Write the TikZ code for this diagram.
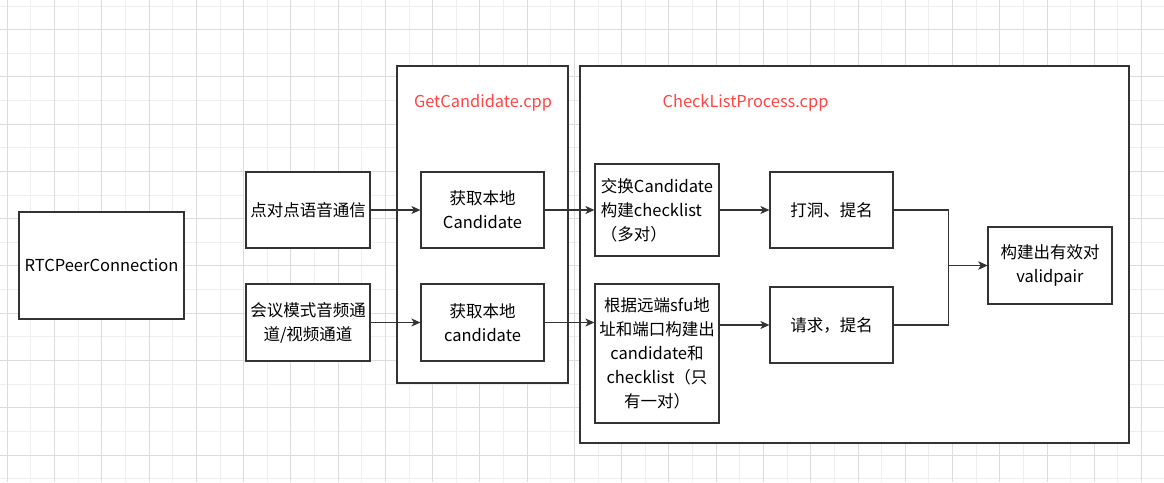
\documentclass[tikz,border=0pt]{standalone}
\usepackage{fontspec}
\setmainfont{Noto Sans CJK SC}
\usetikzlibrary{arrows.meta}
\definecolor{gridlight}{HTML}{EEEEEE}
\definecolor{griddark}{HTML}{DCDCDC}
\definecolor{linec}{HTML}{333333}
\definecolor{redt}{HTML}{FF4545}
\tikzset{
  box/.style={draw=linec, line width=1.2pt, fill=white, inner sep=0pt, align=center,
    font=\fontsize{16.5}{24}\selectfont},
  cont/.style={draw=linec, line width=1.2pt, fill=white},
  arr/.style={draw=linec, line width=1.2pt, -{Stealth[length=9pt,width=8pt,inset=2.5pt]}},
  lbl/.style={text=redt, inner sep=0pt, font=\fontsize{16.4}{20}\selectfont},
  gl/.style={draw=gridlight, line width=0.9pt},
  gd/.style={draw=griddark, line width=0.9pt}
}
\begin{document}
\begin{tikzpicture}[x=1pt,y=-1pt]
\useasboundingbox (0,0) rectangle (1164,482);
\fill[white] (0,0) rectangle (1164,482);
% grid
\foreach \k in {0,...,49} {
  \pgfmathsetmacro{\xx}{7.3+23.63*\k}
  \pgfmathtruncatemacro{\ev}{mod(\k,2)}
  \ifnum\ev=1 \draw[gl] (\xx,0) -- (\xx,482); \fi
}
\foreach \k in {0,...,20} {
  \pgfmathsetmacro{\yy}{6+23.63*\k}
  \pgfmathtruncatemacro{\ev}{mod(\k,2)}
  \ifnum\ev=0 \draw[gl] (0,\yy) -- (1164,\yy); \fi
}
\foreach \k in {0,...,49} {
  \pgfmathsetmacro{\xx}{7.3+23.63*\k}
  \pgfmathtruncatemacro{\ev}{mod(\k,2)}
  \ifnum\ev=0 \draw[gd] (\xx,0) -- (\xx,482); \fi
}
\foreach \k in {0,...,20} {
  \pgfmathsetmacro{\yy}{6+23.63*\k}
  \pgfmathtruncatemacro{\ev}{mod(\k,2)}
  \ifnum\ev=1 \draw[gd] (0,\yy) -- (1164,\yy); \fi
}
% containers
\draw[cont] (397,66) rectangle (568,383);
\draw[cont] (580,66) rectangle (1129,443);
\node[lbl] (lblgc) at (483,103) {GetCandidate.cpp};
\node[lbl] (lblcl) at (745.5,103) {CheckListProcess.cpp};
% boxes
\node[box, minimum width=165pt, minimum height=107pt] (rtc) at (101.5,265.5) {RTCPeerConnection};
\node[box, minimum width=124pt, minimum height=76pt] (p2p) at (308,210) {点对点语音通信};
\node[box, minimum width=124pt, minimum height=77pt] (conf) at (308,322.5) {会议模式音频通\\道/视频通道};
\node[box, minimum width=123pt, minimum height=76pt] (gc1) at (482.5,210) {获取本地\\Candidate};
\node[box, minimum width=123pt, minimum height=77pt] (gc2) at (482.5,322.5) {获取本地\\candidate};
\node[box, minimum width=124pt, minimum height=92pt, align=left] (ex) at (657,210) {交换Candidate\\构建checklist\\（多对）};
\node[box, minimum width=124pt, minimum height=139pt] (sfu) at (657,353.5) {根据远端sfu地\\址和端口构建出\\candidate和\\checklist（只\\有一对）};
\node[box, minimum width=123pt, minimum height=76pt] (hole) at (831.5,210) {打洞、提名};
\node[box, minimum width=123pt, minimum height=76pt] (req) at (831.5,325) {请求，提名};
\node[box, minimum width=124pt, minimum height=77pt] (valid) at (1050,265.5) {构建出有效对\\validpair};
% connectors
\draw[arr] (p2p.east) -- (gc1.west);
\draw[arr] (conf.east) -- (gc2.west);
\draw[arr] (gc1.east) -- (ex.west);
\draw[arr] (gc2.east) -- (gc2.east -| sfu.west);
\draw[arr] (ex.east) -- (hole.west);
\draw[arr] (sfu.east |- req.west) -- (req.west);
\draw[arr] (hole.east) -- ++(55,0) |- (valid.west);
\draw[arr] (req.east) -- ++(55,0) |- (valid.west);
\end{tikzpicture}
\end{document}
